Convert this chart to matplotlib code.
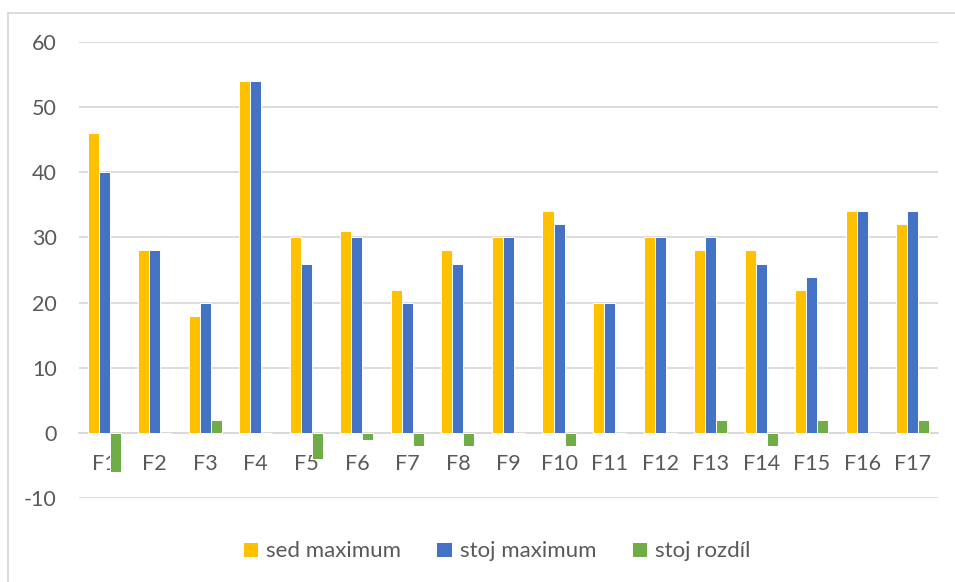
import matplotlib.pyplot as plt
import numpy as np

categories = [f"F{i}" for i in range(1, 18)]
sed_max = [46, 28, 18, 54, 30, 31, 22, 28, 30, 34, 20, 30, 28, 28, 22, 34, 32]
stoj_max = [40, 28, 20, 54, 26, 30, 20, 26, 30, 32, 20, 30, 30, 26, 24, 34, 34]
stoj_rozdil = [-6, 0, 2, 0, -4, -1, -2, -2, 0, -2, 0, 0, 2, -2, 2, 0, 2]

series = [
    ("sed maximum", sed_max, "#FFC000"),
    ("stoj maximum", stoj_max, "#4472C4"),
    ("stoj rozdíl", stoj_rozdil, "#70AD47"),
]

plt.rcParams['font.family'] = ['Lato', 'DejaVu Sans']
plt.rcParams['axes.unicode_minus'] = False
text_col = "#595959"
grid_col = "#D9D9D9"

fig = plt.figure(figsize=(9.55, 5.82), dpi=100)
ax = fig.add_axes([0.0827, 0.144, 0.8995, 0.784])
ax.set_axisbelow(True)  # sloupce kresli pres popisky osy

x = np.arange(len(categories))
w = 0.218
for k, (name, vals, col) in enumerate(series):
    ax.bar(x + (k - 1) * w, vals, w, color=col, edgecolor="white",
           linewidth=0.7, label=name, zorder=3)

ax.set_xlim(-0.5, len(categories) - 0.5)
ax.set_ylim(-10, 60)
ax.set_yticks(range(-10, 61, 10))
ax.yaxis.grid(True, color=grid_col, linewidth=1.3)

for s in ["top", "right", "left"]:
    ax.spines[s].set_visible(False)
# kategoriova osa sedi na nule
ax.spines["bottom"].set_position(("data", 0))
ax.spines["bottom"].set_color(grid_col)
ax.spines["bottom"].set_linewidth(1.3)

ax.set_xticks(x)
ax.set_xticklabels(categories)
ax.tick_params(axis="x", length=0, pad=15, labelsize=15.5, labelcolor=text_col)
ax.tick_params(axis="y", length=0, pad=16, labelsize=15.5, labelcolor=text_col)

fig.legend(loc="center", bbox_to_anchor=(0.52, 0.053), ncol=3, frameon=False,
           fontsize=16, labelcolor=text_col, handlelength=0.7, handleheight=0.7,
           handletextpad=0.35, columnspacing=1.6)

# ramecek grafu
fig.add_artist(plt.Line2D([8 / 955, 8 / 955], [0, 1 - 13 / 582], color=grid_col,
                          linewidth=1.3, transform=fig.transFigure))
fig.add_artist(plt.Line2D([8 / 955, 1], [1 - 13 / 582, 1 - 13 / 582], color=grid_col,
                          linewidth=1.3, transform=fig.transFigure))

fig.savefig("out.png", dpi=100)
